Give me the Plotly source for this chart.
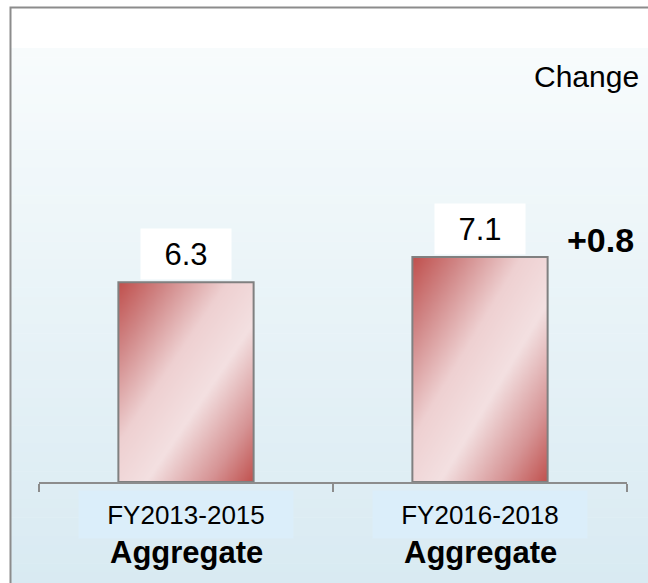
import plotly.graph_objects as go
import numpy as np

# ---- data ----
periods = ["FY2013-2015", "FY2016-2018"]
group_labels = ["Aggregate", "Aggregate"]
values = [6.3, 7.1]
change_label = "Change"
title_text = "Expected Useful Life (average)"

# ---- geometry helpers (pixel -> paper) ----
W, H = 648, 583
ML, MR, MT, MB = 39, 21, 55, 101
PW, PH = W - ML - MR, H - MT - MB
def xp(px):
    return (px - ML) / PW
def yp(py):
    return (H - MB - py) / PH

FONT = "Liberation Sans, Arial, sans-serif"
bar_w = 0.46
xpos = list(range(len(values)))

fig = go.Figure()

# gradient fill inside each bar (heatmap sized from the bar's data)
cs = [[0.0, "#c0504d"], [0.17, "#d08585"], [0.4, "#eed0d1"],
      [0.6, "#f3e0e1"], [0.83, "#d69495"], [1.0, "#c0504d"]]
N, M = 30, 50
for i, v in zip(xpos, values):
    left = i - bar_w / 2
    xs = [left + (n + 0.5) * bar_w / N for n in range(N)]
    ys = [(m + 0.5) * v / M for m in range(M)]
    u = (np.arange(N) + 0.5) / N
    w = 1 - (np.arange(M) + 0.5) / M
    z = (u[None, :] + w[:, None]) / 2
    fig.add_trace(go.Heatmap(x=xs, y=ys, z=z, zmin=0, zmax=1, colorscale=cs,
                             zsmooth="best", showscale=False, hoverinfo="skip"))

# bar outlines
fig.add_trace(go.Bar(x=xpos, y=values, width=bar_w,
                     marker=dict(color="rgba(0,0,0,0)",
                                 line=dict(color="#808080", width=2)),
                     hoverinfo="skip"))

shapes = []
# background gradient inside frame
top_px, bot_px = 48, 600
n_strips = 60
c0 = np.array([248, 252, 253])
c1 = np.array([216, 234, 242])
shapes.append(dict(type="rect", xref="paper", yref="paper", layer="below",
                   x0=xp(11), x1=xp(700), y0=yp(8), y1=yp(top_px),
                   fillcolor="#ffffff", line=dict(width=0)))
for k in range(n_strips):
    a = top_px + (bot_px - top_px) * k / n_strips
    b = top_px + (bot_px - top_px) * (k + 1) / n_strips
    c = c0 + (c1 - c0) * (k + 0.5) / n_strips
    shapes.append(dict(type="rect", xref="paper", yref="paper", layer="below",
                       x0=xp(11), x1=xp(700), y0=yp(a), y1=yp(b + 0.5),
                       fillcolor="rgb(%d,%d,%d)" % tuple(c.astype(int)),
                       line=dict(width=0)))
# frame
shapes.append(dict(type="rect", xref="paper", yref="paper", layer="below",
                   x0=xp(10.5), x1=xp(720), y0=yp(7.5), y1=yp(700),
                   fillcolor="rgba(0,0,0,0)", line=dict(color="#8c8c8c", width=2)))

annotations = []
# clipped title (only descenders visible)
annotations.append(dict(text="<b>" + title_text + "</b>", xref="paper", yref="paper",
                        x=xp(322), y=yp(-18), xanchor="center", yanchor="middle",
                        showarrow=False, font=dict(family=FONT, size=31, color="black")))
for i, v in zip(xpos, values):
    annotations.append(dict(text=f"{v}", x=i, y=v, xref="x", yref="y",
                            xanchor="center", yanchor="bottom", yshift=2,
                            showarrow=False, width=90, height=50, borderpad=0,
                            bgcolor="white",
                            font=dict(family=FONT, size=31, color="black")))
for i, (p, g) in enumerate(zip(periods, group_labels)):
    annotations.append(dict(text=p, x=i, y=0, xref="x", yref="y",
                            xanchor="center", yanchor="top", yshift=-8,
                            showarrow=False, width=214, height=47, borderpad=0,
                            bgcolor="#dbeefa",
                            font=dict(family=FONT, size=26, color="black")))
    annotations.append(dict(text="<b>" + g + "</b>", x=i, y=0, xref="x", yref="y",
                            xanchor="center", yanchor="middle", yshift=-70,
                            showarrow=False,
                            font=dict(family=FONT, size=31, color="black")))
delta = values[1] - values[0]
annotations.append(dict(text="<b>%+.1f</b>" % delta, x=1.41, y=values[1],
                        xref="x", yref="y", xanchor="center", yanchor="middle",
                        yshift=17, showarrow=False,
                        font=dict(family=FONT, size=34, color="black")))
annotations.append(dict(text=change_label, xref="paper", yref="paper",
                        x=xp(586), y=yp(77), xanchor="center", yanchor="middle",
                        showarrow=False,
                        font=dict(family=FONT, size=30, color="black")))

fig.update_layout(
    width=W, height=H,
    margin=dict(l=ML, r=MR, t=MT, b=MB, pad=0),
    paper_bgcolor="white", plot_bgcolor="rgba(0,0,0,0)",
    showlegend=False,
    shapes=shapes, annotations=annotations,
    xaxis=dict(range=[-0.5, 1.5], showgrid=False, zeroline=False,
               showline=True, linecolor="#8c8c8c", linewidth=1.5,
               ticks="outside", tickvals=[-0.5, 0.5, 1.5], ticklen=8,
               tickcolor="#8c8c8c", tickwidth=1.5, showticklabels=False,
               fixedrange=True),
    yaxis=dict(range=[0, PH / 31.7], visible=False, fixedrange=True),
)

fig.write_html("out.html", config={"displayModeBar": False},
               post_script="document.body.style.margin='0';"
                           "document.body.style.overflow='hidden';")
